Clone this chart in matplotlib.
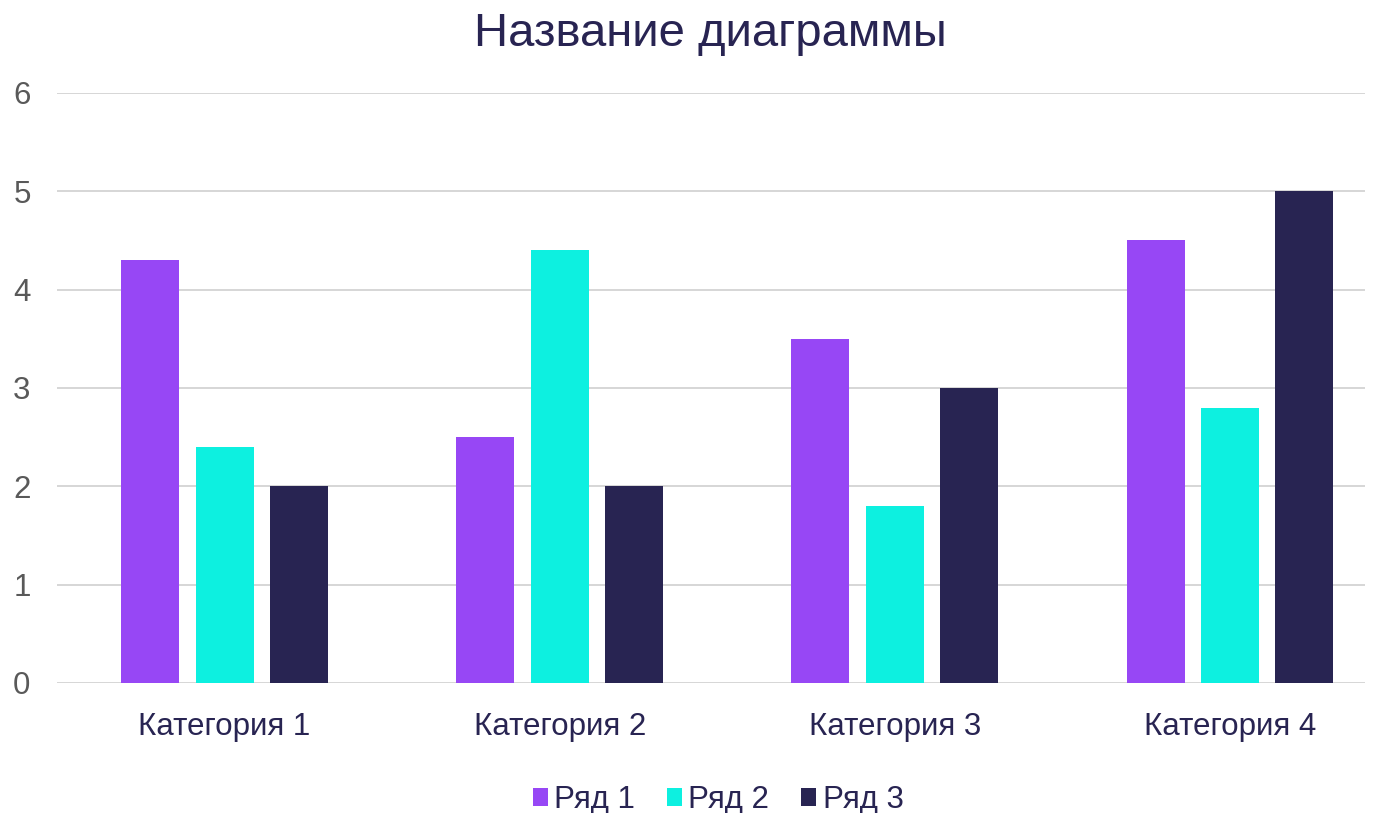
import matplotlib
matplotlib.use("Agg")
import matplotlib.pyplot as plt
import numpy as np
from matplotlib.patches import Patch

categories = ["Категория 1", "Категория 2", "Категория 3", "Категория 4"]
series_names = ["Ряд 1", "Ряд 2", "Ряд 3"]
ryad1 = [4.3, 2.5, 3.5, 4.5]
ryad2 = [2.4, 4.4, 1.8, 2.8]
ryad3 = [2.0, 2.0, 3.0, 5.0]
yticks = [0, 1, 2, 3, 4, 5, 6]

colors = ["#9747F5", "#0DF0E0", "#282452"]
navy = "#282452"

plt.rcParams['font.family'] = ['Liberation Sans', 'DejaVu Sans']

fig = plt.figure(figsize=(13.84, 8.13), dpi=100)
ax = fig.add_axes([57/1384, 1-683/813, (1365-57)/1384, (683-93)/813])

x = np.arange(len(categories))
w = 0.173
off = 0.222
for i, (vals, c) in enumerate(zip([ryad1, ryad2, ryad3], colors)):
    ax.bar(x + (i-1)*off, vals, width=w, color=c, zorder=3, label=series_names[i])

ax.set_xlim(-0.5, 3.403)
ax.set_ylim(0, 6)
ax.set_yticks(yticks)
ax.set_yticklabels([str(t) for t in yticks], fontsize=22.5, color="#595959")
ax.set_xticks(x)
ax.set_xticklabels(categories, fontsize=22.5, color=navy)
ax.tick_params(axis='both', length=0)
ax.tick_params(axis='y', pad=19)
ax.tick_params(axis='x', pad=21)
ax.yaxis.grid(True, color="#D6D6D6", linewidth=1.4, zorder=0)
for s in ax.spines.values():
    s.set_visible(False)
ax.set_axisbelow(True)

fig.text(710/1384, 1-34/813, "Название диаграммы", ha='center', va='center',
         fontsize=34, color=navy)

handles = [Patch(facecolor=c, edgecolor='none') for c in colors]
leg = fig.legend(handles, series_names, loc='center', bbox_to_anchor=(718/1384, 1-800/813),
                 ncol=3, frameon=False, fontsize=22.5, handlelength=0.5, handleheight=0.5,
                 handletextpad=0.2, columnspacing=1.0)
for t in leg.get_texts():
    t.set_color(navy)

fig.savefig("out.png", dpi=100, facecolor="white")
